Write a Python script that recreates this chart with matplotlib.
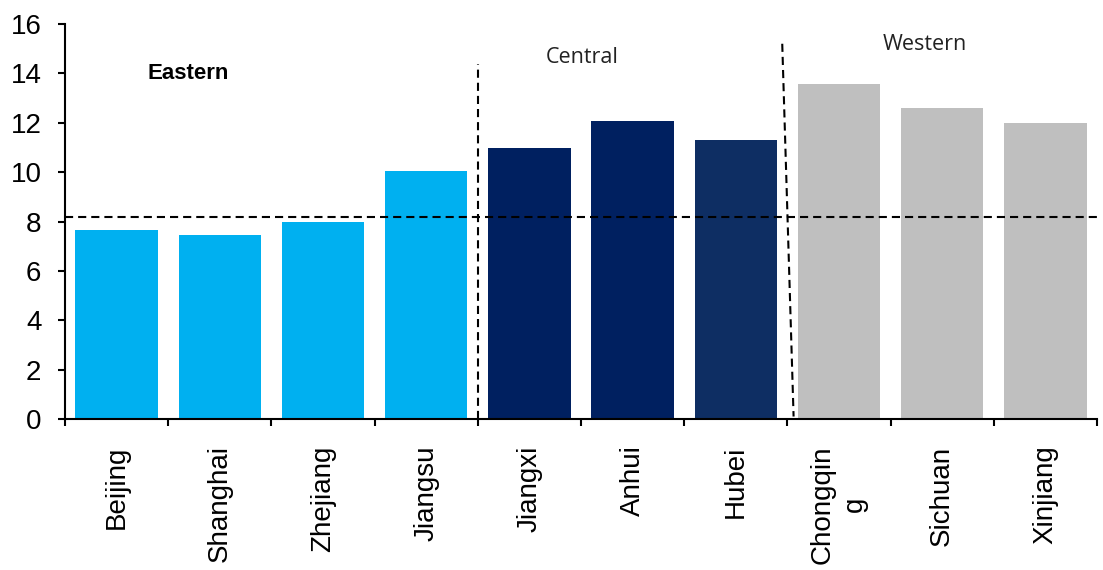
import numpy as np
import matplotlib.pyplot as plt

provinces = ["Beijing", "Shanghai", "Zhejiang", "Jiangsu", "Jiangxi",
             "Anhui", "Hubei", "Chongqin\ng", "Sichuan", "Xinjiang"]
values = [7.65, 7.46, 7.98, 10.05, 10.98, 12.08, 11.30, 13.57, 12.59, 11.97]
bar_colors = ["#00B0F0"] * 4 + ["#002060", "#002060", "#0E2E63"] + ["#BFBFBF"] * 3

regions = ["Eastern", "Central", "Western"]
national_avg = 8.17

fig = plt.figure(figsize=(11.03, 5.70), dpi=100)
ax = fig.add_axes([65 / 1103, 1 - 419 / 570, (1097 - 65) / 1103, (419 - 24) / 570])

x = np.arange(len(provinces))
ax.bar(x, values, width=0.8, color=bar_colors, zorder=2)

# national average and region separators
ax.axhline(national_avg, color="black", lw=1.5, dashes=(3.9, 2.4), zorder=3)
ax.plot([3.5, 3.5], [0, 14.4], color="black", lw=1.5, dashes=(3.9, 2.4), zorder=3)
ax.plot([6.45, 6.56], [15.2, 0.1], color="black", lw=1.5, dashes=(3.9, 2.4), zorder=3)

ax.text(0.69, 14.0, regions[0], ha="center", va="center", fontsize=16,
        fontweight="bold", family="Liberation Sans")
ax.text(4.51, 14.65, regions[1], ha="center", va="center", fontsize=15.5,
        family="Open Sans", color="#222222")
ax.text(7.83, 15.18, regions[2], ha="center", va="center", fontsize=15.5,
        family="Open Sans", color="#222222")

ax.set_xlim(-0.5, len(provinces) - 0.5)
ax.set_ylim(0, 16)
ax.set_yticks(np.arange(0, 17, 2))
ax.set_xticks(np.arange(-0.5, len(provinces), 1.0))
ax.set_xticklabels([])
ax.set_xticks(x, minor=True)
ax.set_xticklabels(provinces, minor=True, rotation=90, ha="center", va="top",
                   multialignment="center", linespacing=1.3,
                   family="Liberation Sans", fontsize=20)
ax.tick_params(axis="x", which="minor", length=0, pad=19)
ax.tick_params(axis="x", which="major", length=5, width=1.5, direction="out")
ax.tick_params(axis="y", length=5, width=1.5, direction="out", pad=12, labelsize=20)
for lab in ax.get_yticklabels():
    lab.set_family("Liberation Sans")

for side in ["top", "right"]:
    ax.spines[side].set_visible(False)
for side in ["left", "bottom"]:
    ax.spines[side].set_linewidth(1.5)

fig.savefig("out.png", dpi=100)
